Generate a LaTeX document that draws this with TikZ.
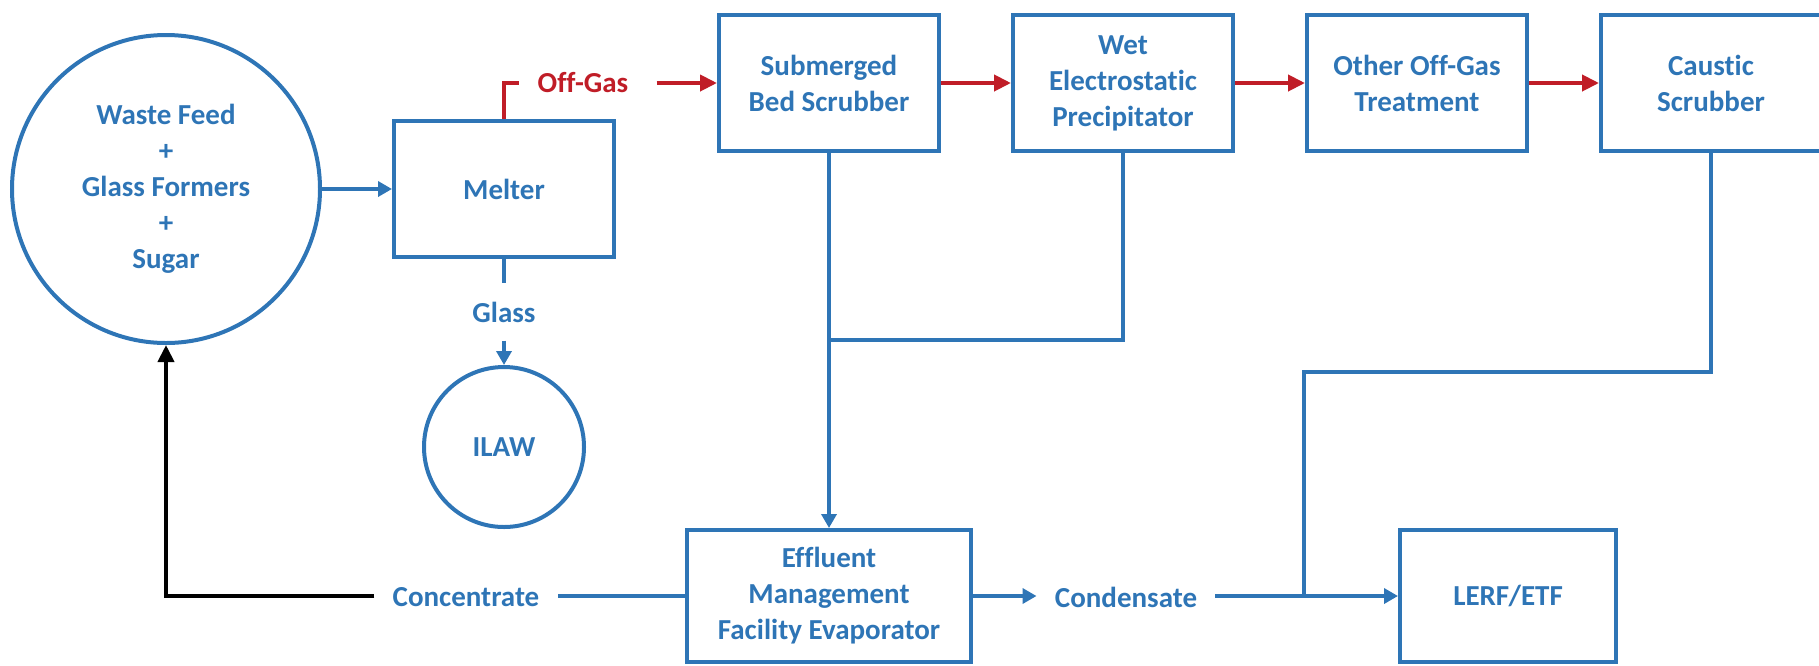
\documentclass[tikz,border=0pt]{standalone}
\usepackage{fontspec}
\setmainfont{Carlito}[Ligatures={NoCommon,NoRare}]
\usetikzlibrary{arrows.meta,positioning}
\definecolor{flowblue}{RGB}{46,117,182}
\definecolor{gasred}{RGB}{192,29,39}

\begin{document}
\begin{tikzpicture}[
  x=0.5pt, y=-0.5pt,
  node distance=35pt,
  font=\bfseries\fontsize{14.5}{18}\selectfont,
  box/.style={draw=flowblue,line width=2pt,text=flowblue,align=center,minimum width=110pt,minimum height=68pt},
  tank/.style={circle,draw=flowblue,line width=2pt,text=flowblue,align=center},
  lbl/.style={text=flowblue,inner sep=9pt},
  pipe/.style={line width=1.8pt,draw=flowblue},
  arr/.style={pipe,-{Triangle[length=7pt,width=7.5pt]}},
  gas/.style={line width=2pt,draw=gasred,-{Triangle[length=8.5pt,width=8pt]}},
  back/.style={line width=2pt,draw=black,-{Triangle[length=8.5pt,width=8pt]}}
]
\useasboundingbox (0,0) rectangle (1819,665);
\node[tank,minimum size=154pt] (feed) at (166,189) {Waste Feed\\+\\Glass Formers\\+\\Sugar};
\node[box,right=of feed] (melter) {Melter};
\node[box] (sbs) at (829,83) {Submerged\\Bed Scrubber};
\node[box,right=of sbs] (wesp) {Wet\\Electrostatic\\Precipitator};
\node[box,right=of wesp] (other) {Other Off-Gas\\Treatment};
\node[box,right=of other] (caustic) {Caustic\\Scrubber};
\node[box,minimum width=142pt,minimum height=66pt] (emf) at (829,596) {Effluent\\Management\\Facility Evaporator};
\node[box,minimum width=108pt,minimum height=66pt] (lerf) at (1508,596) {LERF/ETF};
\node[lbl] (glass) at (melter.south |- 0,312) {Glass};
\node[tank,minimum size=80pt] (ilaw) at (melter.south |- 0,447) {ILAW};
\node[lbl,text=gasred] (offgas) at (583,83) {Off-Gas};
\node[lbl] (conc) at (466,597) {Concentrate};
\node[lbl] (cond) at (1126,597) {Condensate};
\coordinate (scrubjoin) at (829,340);
\coordinate (causticbend) at (1304,372);

\draw[arr] (feed) -- (melter);
\draw[gas,-] (melter.north) |- (offgas.west);
\draw[gas] ([xshift=5pt]offgas.east) -- (sbs.west);
\draw[gas] (sbs.east) -- (wesp.west);
\draw[gas] (wesp.east) -- (other.west);
\draw[gas] (other.east) -- (caustic.west);
\draw[pipe] (melter.south) -- (glass.north);
\draw[arr] (glass.south) -- (ilaw.north);
\draw[arr] (sbs.south) -- (emf.north);
\draw[pipe] (wesp.south) |- (scrubjoin);
\draw[pipe] (emf.west) -- (emf.west -| conc.east);
\draw[back] (conc.west |- emf.west) -| (feed.south);
\draw[arr] (emf.east) -- (emf.east -| cond.west);
\draw[arr] (cond.east |- lerf.west) -- (lerf.west);
\draw[pipe] (caustic.south) |- (causticbend) -- (causticbend |- lerf.west);
\end{tikzpicture}
\end{document}
